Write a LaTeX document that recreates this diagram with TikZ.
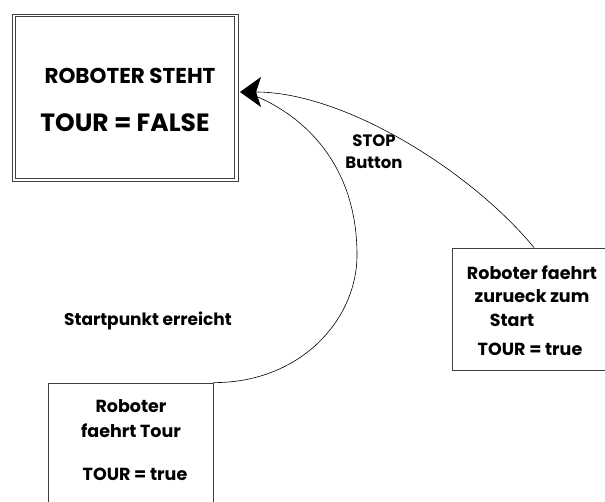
\documentclass[tikz,border=0pt]{standalone}
\usepackage{fontspec}
\setmainfont{Poppins}
\usetikzlibrary{arrows.meta}
\begin{document}
\begin{tikzpicture}[x=1pt,y=-1pt,
  statebox/.style={draw=black!75, line width=0.8pt, inner sep=0pt},
  lbl/.style={font=\bfseries, align=center, inner sep=0pt},
  trans/.style={line width=0.6pt}]
\useasboundingbox (0,0) rectangle (605,502);
\path[fill=white] (0,0) rectangle (605,502);

% states
\node[statebox, minimum width=226pt, minimum height=167pt] (stand) at (125,97.5) {};
\draw[draw=black!75, line width=0.8pt]
  ([shift={(4,3)}]stand.north west) rectangle ([shift={(-4,-3)}]stand.south east);
\node[statebox, minimum width=165pt, minimum height=140pt] (tour) at (130.5,453) {};
\node[statebox, minimum width=164pt, minimum height=122pt] (back) at (534,309) {};

% state texts
\node[lbl, font=\bfseries\fontsize{21.5}{24}\selectfont] (t1) at (130,76) {ROBOTER STEHT};
\node[lbl, font=\bfseries\fontsize{25}{28}\selectfont] (t2) at (125,123) {TOUR = FALSE};
\node[lbl, font=\bfseries\fontsize{17.5}{25}\selectfont] (t3) at (131,419) {Roboter\\faehrt Tour};
\node[lbl, font=\bfseries\fontsize{17.5}{20}\selectfont] (t4) at (135,474) {TOUR = true};
\node[lbl, font=\bfseries\fontsize{17.5}{23.5}\selectfont] (t5) at (532,296) {Roboter faehrt\\zurueck zum\\\hspace*{-40pt}Start};
\node[lbl, font=\bfseries\fontsize{17.5}{20}\selectfont] (t6) at (530,349) {TOUR = true};

% transition labels
\node[lbl, font=\bfseries\fontsize{16.5}{22}\selectfont] (stop) at (374,152) {STOP\\Button};
\node[lbl, font=\bfseries\fontsize{17}{20}\selectfont] (reach) at (148,321) {Startpunkt erreicht};

% transitions
\coordinate (tip) at (240,92);
\coordinate (join) at (258,97);
\draw[trans, -{Stealth[length=21pt, width=30pt, inset=5pt]}]
  (back.north) .. controls (472,172) and (345,92) .. (tip);
\draw[trans] (tour.north east) .. controls (300,383) and (357,320) .. (357,255)
  .. controls (357,170) and (310,120) .. (join);
\end{tikzpicture}
\end{document}
